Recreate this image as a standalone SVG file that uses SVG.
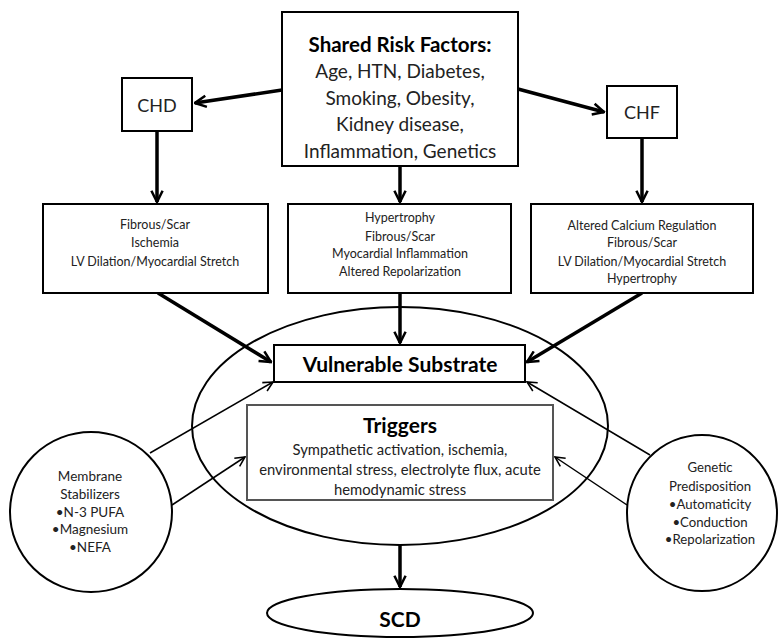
<svg xmlns="http://www.w3.org/2000/svg" width="779" height="638" viewBox="0 0 779 638">
<style>
.box{fill:#fff;stroke:#000;stroke-width:2}
.gbox{fill:#fff;stroke:#555;stroke-width:2}
.ell{fill:none;stroke:#000;stroke-width:2}
.t{font-family:Lato,"Open Sans","Liberation Sans",sans-serif;fill:#222;text-anchor:middle}
.b{font-weight:bold;fill:#000}
.thick{stroke:#000;stroke-width:3.5;fill:none}
.thin{stroke:#000;stroke-width:1.5;fill:none}
</style>
<defs>
<marker id="ah" viewBox="0 0 10 10" refX="9" refY="5" markerWidth="4" markerHeight="4" orient="auto" markerUnits="strokeWidth">
<path d="M1,1 L9,5 L1,9" fill="none" stroke="#000" stroke-width="1.8"/>
</marker>
<marker id="ahs" viewBox="0 0 10 10" refX="9" refY="5" markerWidth="8" markerHeight="8" orient="auto" markerUnits="strokeWidth">
<path d="M1,1 L9,5 L1,9" fill="none" stroke="#000" stroke-width="1.3"/>
</marker>
</defs>
<rect width="779" height="638" fill="#fff"/>

<g id="substrate-ellipse"><ellipse class="ell" cx="400" cy="426" rx="208" ry="119"/></g>

<g id="connectors">
<line class="thick" x1="282" y1="90" x2="195" y2="103" marker-end="url(#ah)"/>
<line class="thick" x1="518" y1="89" x2="604" y2="112" marker-end="url(#ah)"/>
<line class="thick" x1="157" y1="131" x2="157" y2="202" marker-end="url(#ah)"/>
<line class="thick" x1="400" y1="166" x2="400" y2="202" marker-end="url(#ah)"/>
<line class="thick" x1="642" y1="138" x2="642" y2="202" marker-end="url(#ah)"/>
<line class="thick" x1="400" y1="293" x2="400" y2="343" marker-end="url(#ah)"/>
<line class="thick" x1="158" y1="293" x2="271" y2="362" marker-end="url(#ah)"/>
<line class="thick" x1="642" y1="293" x2="527" y2="362" marker-end="url(#ah)"/>
<line class="thick" x1="400" y1="545" x2="400" y2="587" marker-end="url(#ah)"/>
<line class="thin" x1="150" y1="453" x2="273" y2="382" marker-end="url(#ahs)"/>
<line class="thin" x1="172" y1="505" x2="245" y2="457" marker-end="url(#ahs)"/>
<line class="thin" x1="650" y1="455" x2="527" y2="382" marker-end="url(#ahs)"/>
<line class="thin" x1="627" y1="505" x2="555" y2="457" marker-end="url(#ahs)"/>
</g>

<g id="risk-factors">
<rect class="box" x="282" y="12" width="236" height="154"/>
<text class="t b" x="400" y="52" font-size="20.5">Shared Risk Factors:</text>
<text class="t" x="400" y="78" font-size="19">Age, HTN, Diabetes,</text>
<text class="t" x="400" y="105" font-size="19">Smoking, Obesity,</text>
<text class="t" x="400" y="131" font-size="19">Kidney disease,</text>
<text class="t" x="400" y="158" font-size="19">Inflammation, Genetics</text>
</g>

<g id="chd">
<rect class="box" x="122" y="78" width="70" height="53"/>
<text class="t" x="157" y="112" font-size="18">CHD</text>
</g>

<g id="chf">
<rect class="box" x="607" y="86" width="70" height="52"/>
<text class="t" x="642" y="119" font-size="18">CHF</text>
</g>

<g id="chd-effects">
<rect class="box" x="43" y="204" width="225" height="89"/>
<text class="t" x="155" y="229" font-size="12.5">Fibrous/Scar</text>
<text class="t" x="155" y="247" font-size="12.5">Ischemia</text>
<text class="t" x="155" y="266" font-size="12.5">LV Dilation/Myocardial Stretch</text>
</g>

<g id="shared-effects">
<rect class="box" x="288" y="204" width="223" height="89"/>
<text class="t" x="400" y="222" font-size="12.5">Hypertrophy</text>
<text class="t" x="400" y="241" font-size="12.5">Fibrous/Scar</text>
<text class="t" x="400" y="258" font-size="12.5">Myocardial Inflammation</text>
<text class="t" x="400" y="276" font-size="12.5">Altered Repolarization</text>
</g>

<g id="chf-effects">
<rect class="box" x="531" y="204" width="222" height="89"/>
<text class="t" x="642" y="230" font-size="12.5">Altered Calcium Regulation</text>
<text class="t" x="642" y="247" font-size="12.5">Fibrous/Scar</text>
<text class="t" x="642" y="266" font-size="12.5">LV Dilation/Myocardial Stretch</text>
<text class="t" x="642" y="283" font-size="12.5">Hypertrophy</text>
</g>

<g id="vulnerable-substrate">
<rect class="box" x="274" y="345" width="251" height="37"/>
<text class="t b" x="400" y="372" font-size="21">Vulnerable Substrate</text>
</g>

<g id="triggers">
<rect class="gbox" x="247" y="405" width="306" height="95"/>
<text class="t b" x="400" y="433" font-size="21">Triggers</text>
<text class="t" x="400" y="455" font-size="14.8">Sympathetic activation, ischemia,</text>
<text class="t" x="400" y="475" font-size="14.8">environmental stress, electrolyte flux, acute</text>
<text class="t" x="400" y="495" font-size="14.8">hemodynamic stress</text>
</g>

<g id="membrane-stabilizers">
<ellipse class="ell" cx="91" cy="512" rx="81" ry="80" fill="#fff"/>
<text class="t" x="90" y="481" font-size="13.5">Membrane</text>
<text class="t" x="90" y="499" font-size="13.5">Stabilizers</text>
<text class="t" x="90" y="517" font-size="13.5">•N-3 PUFA</text>
<text class="t" x="90" y="534" font-size="13.5">•Magnesium</text>
<text class="t" x="90" y="552" font-size="13.5">•NEFA</text>
</g>

<g id="genetic-predisposition">
<ellipse class="ell" cx="702" cy="513" rx="75" ry="78" fill="#fff"/>
<text class="t" x="710" y="472" font-size="13.2">Genetic</text>
<text class="t" x="710" y="491" font-size="13.2">Predisposition</text>
<text class="t" x="710" y="509" font-size="13.2">•Automaticity</text>
<text class="t" x="710" y="527" font-size="13.2">•Conduction</text>
<text class="t" x="710" y="544" font-size="13.2">•Repolarization</text>
</g>

<g id="scd">
<ellipse class="ell" cx="400" cy="613" rx="133" ry="24" fill="#fff"/>
<text class="t b" x="400" y="627" font-size="21">SCD</text>
</g>
</svg>
